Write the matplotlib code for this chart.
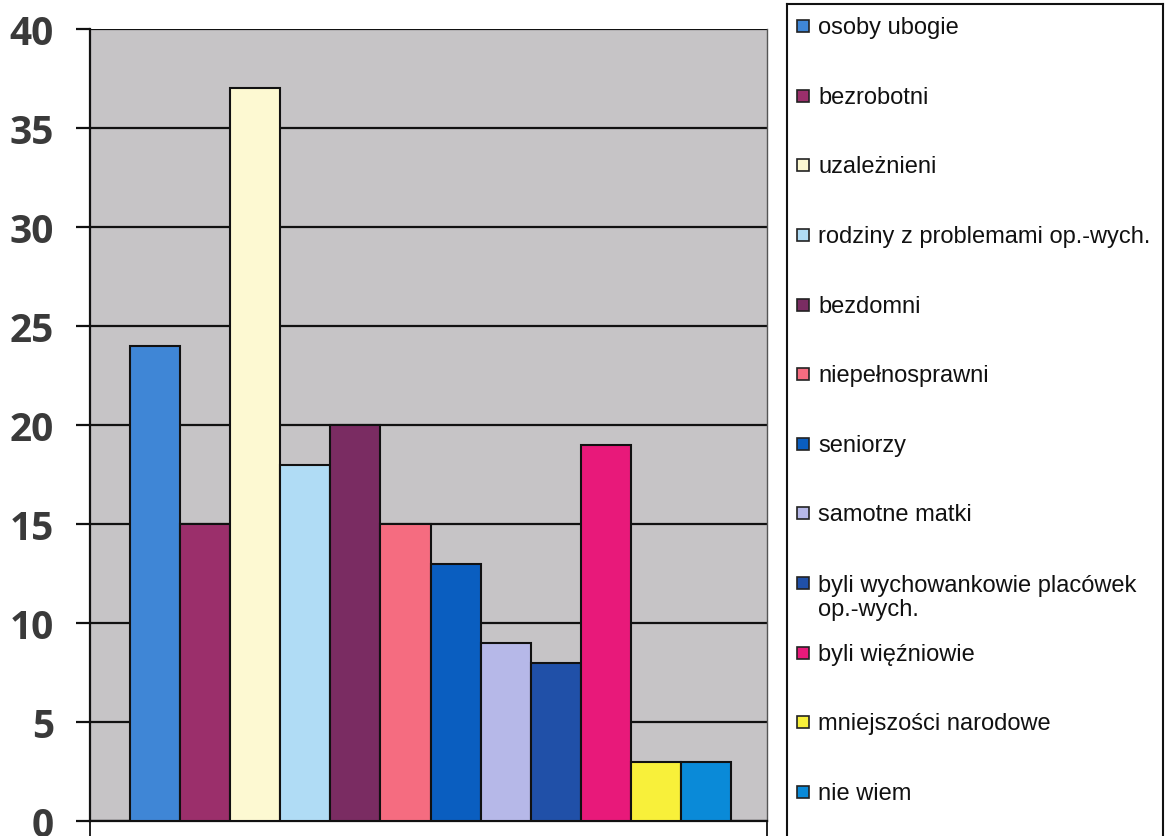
import matplotlib.pyplot as plt
from matplotlib.patches import Rectangle

# data
categories = ['osoby ubogie', 'bezrobotni', 'uzależnieni', 'rodziny z problemami op.-wych.',
              'bezdomni', 'niepełnosprawni', 'seniorzy', 'samotne matki',
              'byli wychowankowie placówek\nop.-wych.', 'byli więźniowie',
              'mniejszości narodowe', 'nie wiem']
values = [24, 15, 37, 18, 20, 15, 13, 9, 8, 19, 3, 3]
colors = ['#3f86d6', '#9b2f6b', '#fdf9d2', '#b0dcf5', '#7a2c62', '#f56c80',
          '#0a5ec0', '#b6b8e8', '#2050a8', '#e8197a', '#f8f03a', '#0a8ad8']
yticks = [0, 5, 10, 15, 20, 25, 30, 35, 40]

W, H = 1165, 837
fig = plt.figure(figsize=(W / 100, H / 100), dpi=100)
ax = fig.add_axes([90 / W, 15 / H, 677 / W, 792 / H])
ax.set_facecolor('#c6c4c6')

x = list(range(len(values)))
ax.bar(x, values, width=1.0, color=colors, edgecolor='#111111', linewidth=1.5, zorder=3)

ax.set_xlim(-1.3, len(values) - 0.5 + 0.72)
ax.set_ylim(0, 40)
ax.set_yticks(yticks)
ax.set_yticklabels([str(t) for t in yticks], fontsize=28, fontweight='bold',
                   family='Open Sans', color='#3a3a3a')
ax.tick_params(axis='y', direction='out', length=10, width=1.6, pad=16, colors='#111111',
               labelcolor='#3a3a3a')
ax.set_xticks([ax.get_xlim()[0], ax.get_xlim()[1]])
ax.set_xticklabels([])
ax.tick_params(axis='x', direction='out', length=12, width=1.4, colors='#222222')
ax.yaxis.grid(True, color='#111111', linewidth=1.6, zorder=1)
ax.set_axisbelow(True)
for s in ['left', 'bottom']:
    ax.spines[s].set_color('#111111')
    ax.spines[s].set_linewidth(1.6)
ax.spines['top'].set_visible(False)
ax.spines['right'].set_color('#555555')
ax.spines['right'].set_linewidth(1.0)

# legend box drawn by hand to follow the Excel layout
lax = fig.add_axes([787 / W, -0.01, (1163 - 787) / W, (837 - 5) / H + 0.01])
lax.set_xlim(0, 1163 - 787)
lax.set_ylim(837 + 8, 5)
lax.set_xticks([])
lax.set_yticks([])
for s in lax.spines.values():
    s.set_color('#111111')
    s.set_linewidth(1.5)

for i, (lab, c) in enumerate(zip(categories, colors)):
    yc = 27 + i * 69.6
    extra = lab.count('\n') * 25
    lax.add_patch(Rectangle((10, yc - 6), 12, 12, facecolor=c, edgecolor='#222222', linewidth=1.2))
    lax.text(31, yc + 7 + extra, lab, fontsize=17, family='Liberation Sans', va='baseline',
             ha='left', color='#111111', linespacing=1.12)

fig.savefig('out.png', dpi=100)
